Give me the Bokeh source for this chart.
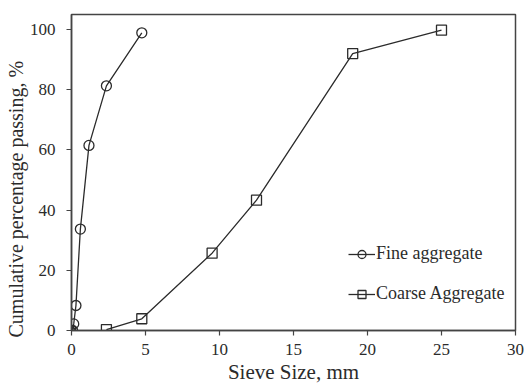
from bokeh.plotting import figure
from bokeh.models import Range1d, Legend, LegendItem, FixedTicker, Title
from bokeh.embed import file_html
from bokeh.resources import INLINE

# Sieve analysis data (sieve opening in mm, cumulative % passing)
fine_size = [0.075, 0.15, 0.3, 0.6, 1.18, 2.36, 4.75]
fine_pass = [0.0, 2.2, 8.3, 33.7, 61.5, 81.3, 98.9]

coarse_size = [2.36, 4.75, 9.5, 12.5, 19.0, 25.0]
coarse_pass = [0.3, 3.9, 25.7, 43.3, 92.0, 99.8]

x_ticks = [0, 5, 10, 15, 20, 25, 30]
y_ticks = [0, 20, 40, 60, 80, 100]

FONT = "Liberation Serif"
INK = "#2b2b2b"

p = figure(width=526, height=386, output_backend="svg", toolbar_location=None,
           x_range=Range1d(0, 30), y_range=Range1d(0, 105),
           min_border_left=71, min_border_right=11,
           min_border_top=14, min_border_bottom=56)

p.xgrid.visible = False
p.ygrid.visible = False
p.outline_line_color = "#444444"
p.outline_line_width = 1.5
p.background_fill_color = "white"
p.border_fill_color = "white"

for ax in (p.xaxis[0], p.yaxis[0]):
    ax.axis_line_color = "#444444"
    ax.axis_line_width = 1.5
    ax.major_tick_line_color = "#444444"
    ax.major_tick_line_width = 1.2
    ax.major_tick_out = 5
    ax.major_tick_in = 0
    ax.minor_tick_line_color = None
    ax.major_label_text_font = FONT
    ax.major_label_text_font_size = "17px"
    ax.major_label_text_color = INK
    ax.axis_label_text_font = FONT
    ax.axis_label_text_font_size = "21px"
    ax.axis_label_text_font_style = "normal"
    ax.axis_label_text_color = INK

p.xaxis.ticker = FixedTicker(ticks=x_ticks)
p.yaxis.ticker = FixedTicker(ticks=y_ticks)
p.xaxis.axis_label = "Sieve Size, mm"
p.xaxis.major_label_standoff = 8
p.yaxis.major_label_standoff = 11
p.xaxis.axis_label_standoff = 2

# y-axis title as a side title anchored near the bottom of the frame
ytitle = Title(text="Cumulative percentage passing, %", align="left",
               offset=-7, standoff=0,
               text_font=FONT, text_font_size="20px",
               text_font_style="normal", text_color=INK)
p.add_layout(ytitle, "left")

fl = p.line(fine_size, fine_pass, line_color=INK, line_width=1.3)
fm = p.scatter(fine_size, fine_pass, marker="circle", size=10,
               fill_color="white", fill_alpha=0, line_color=INK, line_width=1.3)
cl = p.line(coarse_size, coarse_pass, line_color=INK, line_width=1.3)
cm = p.scatter(coarse_size, coarse_pass, marker="square", size=10,
               fill_color="white", fill_alpha=0, line_color=INK, line_width=1.3)

# legend glyphs drawn smaller than the data markers
lf = p.scatter([None], [None], marker="circle", size=7, fill_alpha=0,
               line_color=INK, line_width=1.3)
lc = p.scatter([None], [None], marker="square", size=8, fill_alpha=0,
               line_color=INK, line_width=1.3)

legend = Legend(items=[LegendItem(label="Fine aggregate", renderers=[fl, lf]),
                       LegendItem(label="Coarse Aggregate", renderers=[cl, lc])],
                location=(277, 26), padding=0, margin=0, spacing=19,
                glyph_width=27, glyph_height=20, label_height=20,
                label_standoff=1,
                label_text_font=FONT, label_text_font_size="18px",
                label_text_color=INK,
                border_line_alpha=0, background_fill_alpha=0)
p.add_layout(legend)

open("out.html", "w").write(file_html(p, INLINE))
